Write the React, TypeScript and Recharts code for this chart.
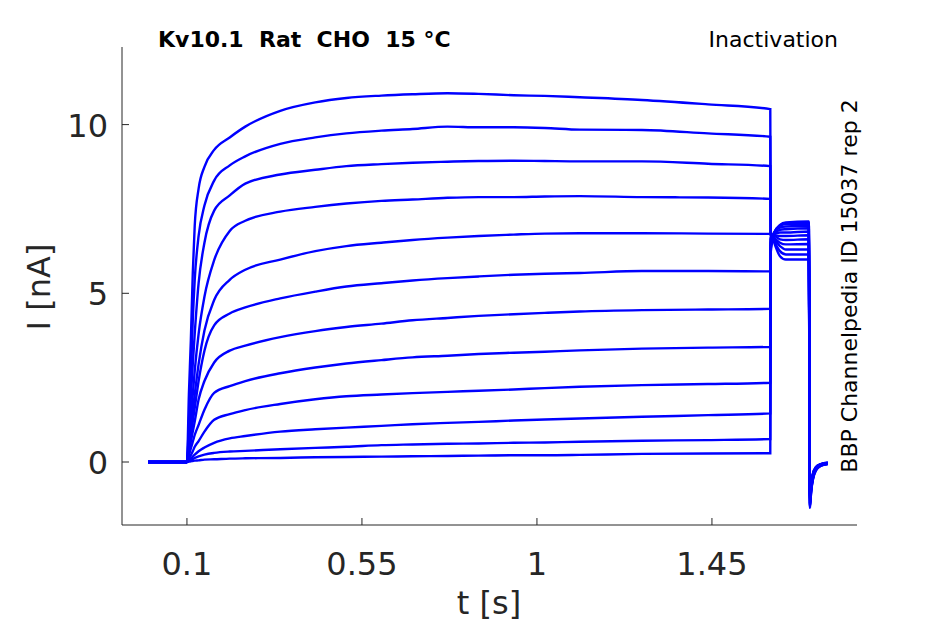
import { LineChart, Line, XAxis, YAxis } from 'recharts'

// time base [s]: holding, prepulse (0.1 - 1.6 s), test pulse and tail
const time = [
  0, 0.1, 0.105, 0.11, 0.115, 0.12, 0.13, 0.145, 0.17, 0.21, 0.25, 0.34, 0.43, 0.51,
  0.6, 0.68, 0.77, 0.85, 0.94, 1.02, 1.11, 1.27, 1.44, 1.6,
  1.601, 1.61, 1.625, 1.64, 1.699, 1.702, 1.705, 1.709, 1.717, 1.73, 1.748,
]

// current [nA], one sweep per prepulse step
const sweep01 = [0, 0, 2.0, 3.6, 5.6, 7.0, 8.1, 8.75, 9.25, 9.62, 9.94, 10.41, 10.66, 10.79, 10.86, 10.9, 10.93, 10.91, 10.87, 10.85, 10.81, 10.73, 10.6, 10.46,
  6.8, 6.5, 6.1, 6.0, 6.0, -0.98, -0.62, -0.36, -0.15, -0.06, -0.02]
const sweep02 = [0, 0, 1.2, 2.5, 4.2, 5.4, 6.7, 7.6, 8.34, 8.79, 9.06, 9.43, 9.62, 9.74, 9.82, 9.87, 9.94, 9.92, 9.92, 9.9, 9.85, 9.84, 9.74, 9.64,
  6.8, 6.55, 6.25, 6.15, 6.15, -1.02, -0.65, -0.38, -0.16, -0.06, -0.02]
const sweep03 = [0, 0, 0.9, 1.9, 2.9, 3.8, 5.3, 6.5, 7.45, 7.9, 8.25, 8.52, 8.66, 8.77, 8.83, 8.87, 8.9, 8.92, 8.93, 8.92, 8.91, 8.91, 8.84, 8.77,
  6.75, 6.6, 6.4, 6.3, 6.3, -1.05, -0.68, -0.4, -0.17, -0.07, -0.03]
const sweep04 = [0, 0, 0.6, 1.3, 2.0, 2.7, 3.8, 4.9, 5.98, 6.85, 7.15, 7.42, 7.56, 7.66, 7.74, 7.78, 7.83, 7.85, 7.85, 7.87, 7.88, 7.85, 7.84, 7.8,
  6.75, 6.65, 6.5, 6.45, 6.46, -1.08, -0.7, -0.41, -0.18, -0.07, -0.03]
const sweep05 = [0, 0, 0.5, 1.0, 1.5, 2.0, 2.9, 3.9, 4.8, 5.4, 5.7, 6.0, 6.25, 6.4, 6.5, 6.58, 6.65, 6.7, 6.74, 6.77, 6.78, 6.78, 6.77, 6.76,
  6.7, 6.7, 6.6, 6.58, 6.6, -1.12, -0.73, -0.43, -0.19, -0.08, -0.03]
const sweep06 = [0, 0, 0.4, 0.8, 1.2, 1.6, 2.4, 3.3, 4.05, 4.4, 4.58, 4.85, 5.05, 5.2, 5.3, 5.38, 5.45, 5.5, 5.55, 5.58, 5.6, 5.66, 5.66, 5.65,
  6.7, 6.72, 6.7, 6.7, 6.72, -1.15, -0.75, -0.45, -0.2, -0.08, -0.04]
const sweep07 = [0, 0, 0.3, 0.6, 0.9, 1.2, 1.85, 2.4, 2.95, 3.3, 3.45, 3.7, 3.88, 4.0, 4.1, 4.2, 4.27, 4.33, 4.38, 4.42, 4.46, 4.5, 4.52, 4.54,
  6.65, 6.75, 6.8, 6.8, 6.83, -1.18, -0.78, -0.47, -0.21, -0.09, -0.04]
const sweep08 = [0, 0, 0.2, 0.4, 0.6, 0.8, 1.1, 1.55, 2.05, 2.25, 2.4, 2.63, 2.8, 2.92, 3.02, 3.1, 3.15, 3.2, 3.24, 3.27, 3.31, 3.36, 3.39, 3.41,
  6.6, 6.78, 6.88, 6.9, 6.93, -1.22, -0.8, -0.49, -0.22, -0.09, -0.04]
const sweep09 = [0, 0, 0.1, 0.2, 0.32, 0.45, 0.62, 0.9, 1.25, 1.42, 1.54, 1.72, 1.86, 1.95, 2.0, 2.04, 2.08, 2.11, 2.15, 2.19, 2.23, 2.28, 2.31, 2.35,
  6.5, 6.8, 6.95, 6.98, 7.0, -1.25, -0.83, -0.5, -0.23, -0.1, -0.05]
const sweep10 = [0, 0, 0.05, 0.1, 0.16, 0.22, 0.32, 0.43, 0.57, 0.7, 0.77, 0.9, 0.97, 1.02, 1.07, 1.12, 1.16, 1.19, 1.23, 1.26, 1.29, 1.34, 1.39, 1.44,
  6.4, 6.8, 7.0, 7.05, 7.07, -1.29, -0.86, -0.52, -0.24, -0.1, -0.05]
const sweep11 = [0, 0, 0.03, 0.06, 0.09, 0.12, 0.17, 0.22, 0.27, 0.31, 0.33, 0.38, 0.42, 0.45, 0.5, 0.52, 0.54, 0.55, 0.57, 0.58, 0.6, 0.63, 0.65, 0.68,
  6.3, 6.8, 7.02, 7.08, 7.1, -1.32, -0.88, -0.54, -0.25, -0.11, -0.05]
const sweep12 = [0, 0, 0.01, 0.02, 0.03, 0.04, 0.05, 0.07, 0.08, 0.1, 0.11, 0.12, 0.14, 0.15, 0.16, 0.17, 0.18, 0.19, 0.2, 0.2, 0.21, 0.24, 0.25, 0.26,
  6.2, 6.75, 7.03, 7.1, 7.13, -1.36, -0.9, -0.56, -0.26, -0.11, -0.06]

const sweeps = [sweep01, sweep02, sweep03, sweep04, sweep05, sweep06, sweep07, sweep08, sweep09, sweep10, sweep11, sweep12]

const xTicks = [0.1, 0.55, 1, 1.45]
const yTicks = [0, 5, 10]

const rows = time.map((t, k) => {
  const row: Record<string, number> = { t }
  sweeps.forEach((s, i) => { row[`s${i}`] = s[k] })
  return row
})

const ink = '#262626'
const font = '"DejaVu Sans", sans-serif'

function XTick(p: any) {
  const { x, y, payload } = p
  return (
    <g>
      <line x1={x} x2={x} y1={y} y2={y - 7} stroke={ink} strokeWidth={1} />
      <text x={x} y={y + 50} textAnchor="middle" fill={ink} fontSize={32} fontFamily={font}>{payload.value}</text>
    </g>
  )
}

function YTick(p: any) {
  const { x, y, payload } = p
  return (
    <g>
      <line x1={x} x2={x + 7} y1={y} y2={y} stroke={ink} strokeWidth={1} />
      <text x={x - 14} y={y + 12} textAnchor="end" fill={ink} fontSize={32} fontFamily={font}>{payload.value}</text>
    </g>
  )
}

export default function App() {
  return (
    <div style={{ position: 'absolute', left: 0, top: 0, width: 945, height: 624, background: '#fff' }}>
      <LineChart width={945} height={624} data={rows} margin={{ top: 47, right: 88, left: 0, bottom: 0 }}>
        <XAxis
          dataKey="t" type="number" domain={[-0.067, 1.823]} ticks={xTicks} allowDataOverflow
          height={99} tickSize={0} tickMargin={0} tickLine={false}
          axisLine={{ stroke: ink, strokeWidth: 1 }} tick={XTick} interval={0}
        />
        <YAxis
          type="number" domain={[-1.867, 12.3]} ticks={yTicks} allowDataOverflow
          width={122} tickSize={0} tickMargin={0} tickLine={false}
          axisLine={{ stroke: ink, strokeWidth: 1 }} tick={YTick} interval={0}
        />
        {sweeps.map((_, i) => (
          <Line key={i} dataKey={`s${i}`} type="monotone" stroke="#0000ff" strokeWidth={2.4} dot={false} isAnimationActive={false} />
        ))}
      </LineChart>
      <svg width={945} height={624} style={{ position: 'absolute', left: 0, top: 0, pointerEvents: 'none' }}>
        <text x={158} y={47} fontSize={22} fontWeight="bold" fontFamily={font} fill="#000" style={{ whiteSpace: 'pre' }}>
          {'Kv10.1  Rat  CHO  15 °C'}
        </text>
        <text x={838} y={47} fontSize={22} textAnchor="end" fontFamily={font} fill="#000">Inactivation</text>
        <text x={0} y={0} transform="translate(857 286) rotate(-90)" fontSize={22} textAnchor="middle" fontFamily={font} fill="#000">
          BBP Channelpedia ID 15037 rep 2
        </text>
        <text x={489} y={614} fontSize={32} textAnchor="middle" fontFamily={font} fill={ink}>t [s]</text>
        <text x={0} y={0} transform="translate(50 287) rotate(-90)" fontSize={32} textAnchor="middle" fontFamily={font} fill={ink}>I [nA]</text>
      </svg>
    </div>
  )
}
